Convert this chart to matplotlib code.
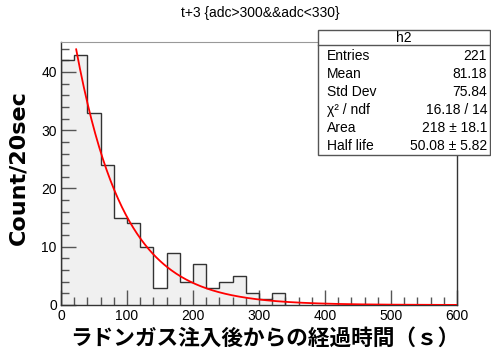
import numpy as np
import matplotlib.pyplot as plt
from matplotlib.patches import Rectangle
from matplotlib.lines import Line2D
from matplotlib.ticker import MultipleLocator

# histogram counts, 20 s bins
bin_edges = list(range(0, 360, 20))
counts = [42, 43, 33, 24, 15, 14, 10, 3, 9, 4, 7, 3, 4, 5, 2, 1, 2]

# fit parameters (from stats box)
fit_area = 218.0
half_life = 50.08
bin_width = 20.0
fit_start, fit_end = 23.0, 600.0

title = "t+3 {adc>300&&adc<330}"
stat_names = ["Entries", "Mean", "Std Dev", "\u03c7\u00b2 / ndf", "Area", "Half life"]
stat_values = ["221", "81.18", "75.84", "16.18 / 14", "218 \u00b1 18.1", "50.08 \u00b1 5.82"]

plt.rcParams['font.family'] = ['Liberation Sans', 'DejaVu Sans']

W, H = 491, 350
fig = plt.figure(figsize=(W / 100, H / 100), dpi=100)
ax = fig.add_axes([61 / W, 1 - 305 / H, (457 - 61) / W, (305 - 42) / H])

ax.stairs(counts, bin_edges, fill=True, color='#f0f0f0', zorder=1)
ax.stairs(counts, bin_edges, color='#333333', linewidth=1.0, zorder=2)

k = np.log(2) / half_life
t = np.linspace(fit_start, fit_end, 400)
ax.plot(t, fit_area * k * bin_width * np.exp(-k * t), color='red', linewidth=1.3, zorder=3)

ax.set_xlim(0, 600)
ax.set_ylim(0, max(counts) * 1.05)
ax.xaxis.set_major_locator(MultipleLocator(100))
ax.xaxis.set_minor_locator(MultipleLocator(20))
ax.yaxis.set_major_locator(MultipleLocator(10))
ax.yaxis.set_minor_locator(MultipleLocator(2))
ax.tick_params(which='both', direction='in', colors='#555555', labelcolor='black',
               labelsize=10, top=False, right=False)
ax.tick_params(which='major', length=11, width=1.0, pad=3)
ax.tick_params(which='minor', length=6, width=1.0)
for side in ['left', 'bottom', 'right']:
    ax.spines[side].set_color('#333333')
    ax.spines[side].set_linewidth(1.0)
ax.spines['top'].set_color('#999999')

fig.text(260 / W, 1 - 13 / H, title, ha='center', va='center', fontsize=10)

fig.text(18 / W, 1 - 168 / H, "Count/20sec", rotation=90, ha='center', va='center',
         fontsize=16, fontweight='bold', family=['DejaVu Sans'])
fig.text(265 / W, 1 - 338 / H, "ラドンガス注入後からの経過時間（ｓ）", ha='center', va='center',
         fontsize=15.6, fontweight='bold', family=['Noto Sans CJK JP', 'DejaVu Sans'])

# stats box
x0, x1, y0, y1 = 318, 490, 30, 155
fig.patches.append(Rectangle((x0 / W, 1 - y1 / H), (x1 - x0) / W, (y1 - y0) / H,
                             transform=fig.transFigure, facecolor='white',
                             edgecolor='#555555', linewidth=1.0, zorder=5))
fig.lines.append(Line2D([x0 / W, x1 / W], [1 - 45 / H, 1 - 45 / H],
                        transform=fig.transFigure, color='#555555', linewidth=1.0, zorder=6))
fig.text((x0 + x1) / 2 / W, 1 - 38 / H, "h2", ha='center', va='center', fontsize=10, zorder=7)
row_y = [56, 74, 92, 110, 128, 146]
for name, val, yy in zip(stat_names, stat_values, row_y):
    fig.text(327 / W, 1 - yy / H, name, ha='left', va='center', fontsize=10, zorder=7)
    fig.text(487 / W, 1 - yy / H, val, ha='right', va='center', fontsize=10, zorder=7)

fig.savefig("out.png", dpi=100)
